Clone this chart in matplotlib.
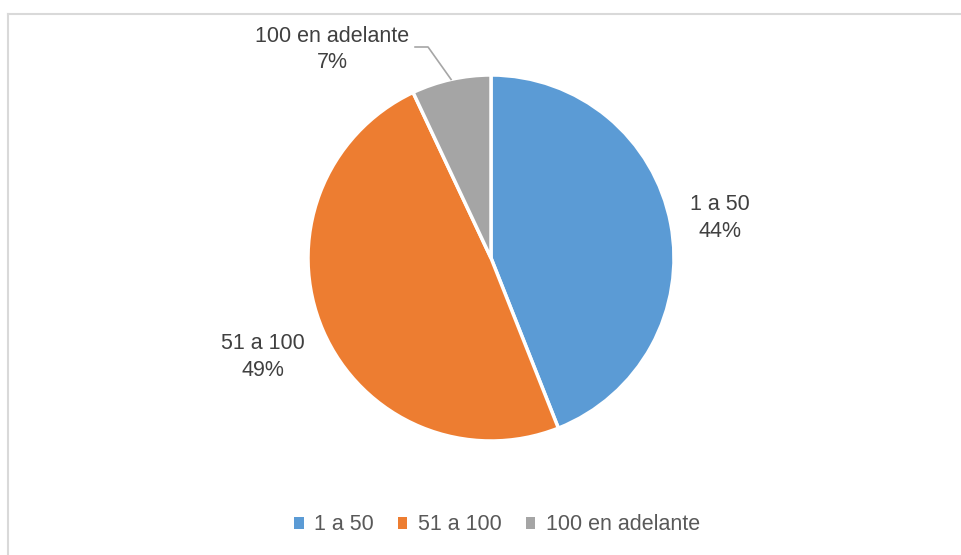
import numpy as np
import matplotlib.pyplot as plt
from matplotlib.lines import Line2D
from matplotlib.patches import Patch

# Data
categories = ['1 a 50', '51 a 100', '100 en adelante']
percents = [44, 49, 7]
colors = ['#5B9BD5', '#ED7D31', '#A5A5A5']

plt.rcParams['font.family'] = ['Liberation Sans', 'DejaVu Sans']

W, H = 961, 555
fig = plt.figure(figsize=(W / 100, H / 100), dpi=100)

# Chart area border (light gray, top and left visible)
fig.add_artist(Line2D([8 / W, 8 / W], [0, 1 - 14 / H], color='#D9D9D9', lw=1.5))
fig.add_artist(Line2D([8 / W, 1], [1 - 14 / H, 1 - 14 / H], color='#D9D9D9', lw=1.5))

# Pie axes
cx, cy, r = 491, 258, 183
ax = fig.add_axes([(cx - r) / W, (H - cy - r) / H, 2 * r / W, 2 * r / H])
wedges, _ = ax.pie(percents, colors=colors, startangle=90, counterclock=False,
                   radius=1, wedgeprops=dict(edgecolor='white', linewidth=2.5))
ax.set_xlim(-1, 1)
ax.set_ylim(-1, 1)
ax.set_aspect('equal')
ax.axis('off')

txt_color = '#404040'
fs = 15.5
# Data labels
label_pos = [(1.25, 0.22), (-1.246, -0.54), (-0.869, 1.14)]
for cat, pct, (lx, ly) in zip(categories, percents, label_pos):
    ax.text(lx, ly, f'{cat}\n{pct}%', ha='center', va='center', fontsize=fs,
            color=txt_color, linespacing=1.35, clip_on=False)

# Leader line for smallest slice
w = wedges[2]
mid = np.deg2rad((w.theta1 + w.theta2) / 2)
ax.plot([-0.415, -0.344, np.cos(mid)], [1.153, 1.153, np.sin(mid)],
        color='#A6A6A6', lw=1.2, clip_on=False)

# Legend
handles = [Patch(facecolor=c, edgecolor='none') for c in colors]
fig.legend(handles, categories, loc='center', bbox_to_anchor=(497 / W, 1 - 525 / H),
           ncol=3, frameon=False, fontsize=fs, handlelength=0.45, handleheight=0.45,
           handletextpad=0.5, columnspacing=1.1, labelcolor='#595959')

fig.savefig('out.png', dpi=100)
